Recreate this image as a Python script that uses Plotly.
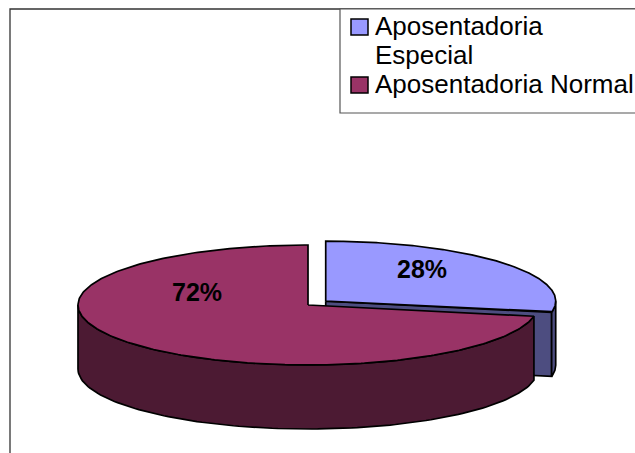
import numpy as np
import plotly.graph_objects as go

# ---- data ----
categories = ["Aposentadoria Especial", "Aposentadoria Normal"]
legend_lines = [["Aposentadoria", "Especial"], ["Aposentadoria Normal"]]
values = [28, 72]
top_colors = ["#9999FF", "#993366"]
side_colors = ["#4D4D80", "#4C1A33"]
explode = [0.1, 0.0]

# ---- geometry (screen pixel space) ----
VW, VH = 635, 453
CX, CY = 308, 305      # pie centre
RX, RY = 230, 60       # ellipse radii of the top face
DEPTH = 64             # thickness of the 3-D pie
LABEL_POS = [(422, 269), (197, 292)]
FONT = "Liberation Sans, Arial, sans-serif"

total = sum(values)
fracs = [v / total for v in values]


def rim(cx, cy, th):
    return cx + RX * np.cos(th), cy - RY * np.sin(th)


fig = go.Figure()
start = np.pi / 2  # pie starts at 12 o'clock, clockwise
slices = []
for i, f in enumerate(fracs):
    th2 = start
    th1 = start - f * 2 * np.pi
    start = th1
    mid = (th1 + th2) / 2
    cx = CX + explode[i] * RX * np.cos(mid)
    cy = CY - explode[i] * RY * np.sin(mid)
    slices.append((i, th1, th2, cx, cy))

line = dict(color="black", width=1.7)

for i, th1, th2, cx, cy in slices:
    # radial (cut) faces facing the viewer
    for th, visible in ((th1, np.cos(th1) > 1e-9), (th2, np.cos(th2) < -1e-9)):
        if visible:
            px, py = rim(cx, cy, th)
            fig.add_trace(go.Scatter(
                x=[cx, px, px, cx, cx], y=[cy, py, py + DEPTH, cy + DEPTH, cy],
                mode="lines", fill="toself", fillcolor=side_colors[i], line=line,
                hoverinfo="skip", showlegend=False))
    # outer side: visible where sin(theta) <= 0
    for k in range(-2, 2):
        lo = max(th1, -np.pi + 2 * np.pi * k)
        hi = min(th2, 0 + 2 * np.pi * k)
        if hi > lo:
            t = np.linspace(lo, hi, 120)
            xs, ys = rim(cx, cy, t)
            X = np.concatenate([xs, xs[::-1], xs[:1]])
            Y = np.concatenate([ys, ys[::-1] + DEPTH, ys[:1]])
            fig.add_trace(go.Scatter(
                x=X, y=Y, mode="lines", fill="toself", fillcolor=side_colors[i],
                line=line, hoverinfo="skip", showlegend=False))
    # top face
    t = np.linspace(th1, th2, 300)
    xs, ys = rim(cx, cy, t)
    X = np.concatenate([[cx], xs, [cx]])
    Y = np.concatenate([[cy], ys, [cy]])
    fig.add_trace(go.Scatter(
        x=X, y=Y, mode="lines", fill="toself", fillcolor=top_colors[i], line=line,
        name=categories[i], hoverinfo="skip", showlegend=False))

# percentage labels
for i, f in enumerate(fracs):
    fig.add_annotation(x=LABEL_POS[i][0], y=LABEL_POS[i][1],
                       text=f"<b>{f * 100:.0f}%</b>", showarrow=False,
                       font=dict(size=25, color="black", family=FONT))

# outer frame
fig.add_shape(type="rect", x0=10, y0=9, x1=VW + 20, y1=VH + 20,
              line=dict(color="#333", width=1.3), layer="below")

# legend box
LEG_X0, LEG_Y0, LEG_Y1 = 340, 9, 113
fig.add_shape(type="rect", x0=LEG_X0, y0=LEG_Y0, x1=VW + 20, y1=LEG_Y1,
              line=dict(color="#555", width=1.2), fillcolor="white", layer="above")
line_gap = 29
row = 0
for i, lines in enumerate(legend_lines):
    yc = 26 + row * line_gap
    fig.add_shape(type="rect", x0=351, y0=yc - 7, x1=368, y1=yc + 9,
                  line=dict(color="black", width=1.5), fillcolor=top_colors[i],
                  layer="above")
    for txt in lines:
        fig.add_annotation(x=375, y=26 + row * line_gap, text=txt,
                           showarrow=False, xanchor="left", yanchor="middle",
                           borderpad=0, borderwidth=0,
                           font=dict(size=26, color="black", family=FONT))
        row += 1

fig.update_layout(
    width=VW, height=VH, autosize=False,
    margin=dict(l=0, r=0, t=0, b=0),
    paper_bgcolor="white", plot_bgcolor="white",
    xaxis=dict(range=[0, VW], visible=False, fixedrange=True),
    yaxis=dict(range=[VH, 0], visible=False, fixedrange=True),
    showlegend=False,
    font=dict(family=FONT),
)

fig.write_html(
    "out.html",
    config={"responsive": False, "displayModeBar": False},
    post_script=("document.documentElement.style.overflow='hidden';"
                 "document.body.style.margin='0px';"
                 "document.body.style.overflow='hidden';"),
)
